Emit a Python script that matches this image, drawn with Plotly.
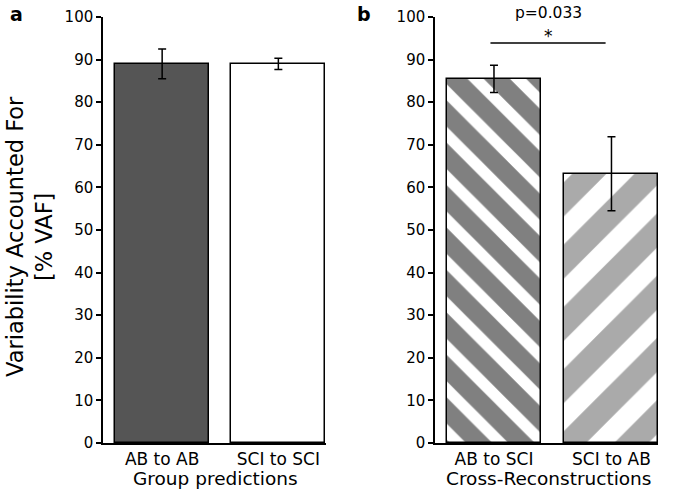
import plotly.graph_objects as go

# ---- data ----
cats_a = ["AB to AB", "SCI to SCI"]
vals_a = [89.0, 89.0]
err_a = [3.5, 1.3]

cats_b = ["AB to SCI", "SCI to AB"]
vals_b = [85.5, 63.2]
err_b = [3.2, 8.7]

y_ticks = list(range(0, 101, 10))
p_text = "p=0.033"

W, H = 675, 497
FONT = "DejaVu Sans"

def fx(px):
    return px / W

def fy(py):
    return 1 - py / H

fig = go.Figure()

# panel a
fig.add_trace(go.Bar(
    x=[0, 1], y=vals_a, width=0.81,
    marker=dict(color=["#555555", "#ffffff"], line=dict(color="black", width=1.5)),
    error_y=dict(type="data", array=err_a, color="black", thickness=1.5, width=4),
    xaxis="x", yaxis="y", showlegend=False,
))

# panel b
fig.add_trace(go.Bar(
    x=[0], y=[vals_b[0]], width=0.8,
    marker=dict(color="#ffffff", line=dict(color="black", width=1.5),
                pattern=dict(shape="\\", fgcolor="#808080", bgcolor="#ffffff",
                             size=30, solidity=0.62, fillmode="replace")),
    error_y=dict(type="data", array=[err_b[0]], color="black", thickness=1.5, width=4),
    xaxis="x2", yaxis="y2", showlegend=False,
))
fig.add_trace(go.Bar(
    x=[1], y=[vals_b[1]], width=0.8,
    marker=dict(color="#ffffff", line=dict(color="black", width=1.5),
                pattern=dict(shape="/", fgcolor="#aaaaaa", bgcolor="#ffffff",
                             size=44, solidity=0.55, fillmode="replace")),
    error_y=dict(type="data", array=[err_b[1]], color="black", thickness=1.5, width=4),
    xaxis="x2", yaxis="y2", showlegend=False,
))

yax_common = dict(
    range=[0, 100], tickvals=y_ticks, showline=True, linecolor="black", linewidth=1.5,
    ticks="outside", ticklen=5, tickwidth=1.5, tickcolor="black", automargin=False,
    showgrid=False, zeroline=False, tickfont=dict(family=FONT, size=15, color="black"),
    domain=[fy(443), fy(17)],
)
xax_common = dict(
    showline=True, linecolor="black", linewidth=1.5, ticks="", showgrid=False,
    zeroline=False, tickfont=dict(family=FONT, size=17, color="black"),
    tickvals=[0, 1], automargin=False,
)

fig.update_layout(
    width=W, height=H,
    margin=dict(l=0, r=0, t=0, b=0, autoexpand=False),
    plot_bgcolor="white", paper_bgcolor="white",
    bargap=0,
    xaxis=dict(**xax_common, ticktext=cats_a, range=[-0.509, 1.41],
               domain=[fx(103), fx(326)], anchor="y"),
    yaxis=dict(**yax_common, anchor="x"),
    xaxis2=dict(**xax_common, ticktext=cats_b, range=[-0.502, 1.396],
                domain=[fx(435), fx(658)], anchor="y2"),
    yaxis2=dict(**yax_common, anchor="x2"),
)

ann_font = dict(family=FONT, color="black")

def ann(text, x, y, size, angle=0):
    fig.add_annotation(text=text, xref="paper", yref="paper", x=fx(x), y=fy(y),
                       xanchor="center", yanchor="middle", textangle=angle,
                       showarrow=False, font=dict(**ann_font, size=size))

ann("Group predictions", 215, 478, 18.5)
ann("Cross-Reconstructions", 548, 478, 18.5)
ann("Variability Accounted For", 15, 237, 22.5, -90)
ann("[% VAF]", 44, 237, 22.5, -90)
ann("<b>a</b>", 16, 14, 19)
ann("<b>b</b>", 364, 14, 19)
ann("*", 548, 36, 17)
ann(p_text, 548, 13, 15.5)

# significance bracket
fig.add_shape(type="line", xref="x2", yref="y2", x0=-0.03, x1=0.95, y0=93.9, y1=93.9,
              line=dict(color="black", width=1.5))

fig.write_html("out.html", config={"displayModeBar": False},
               post_script="document.body.style.margin='0px';")
